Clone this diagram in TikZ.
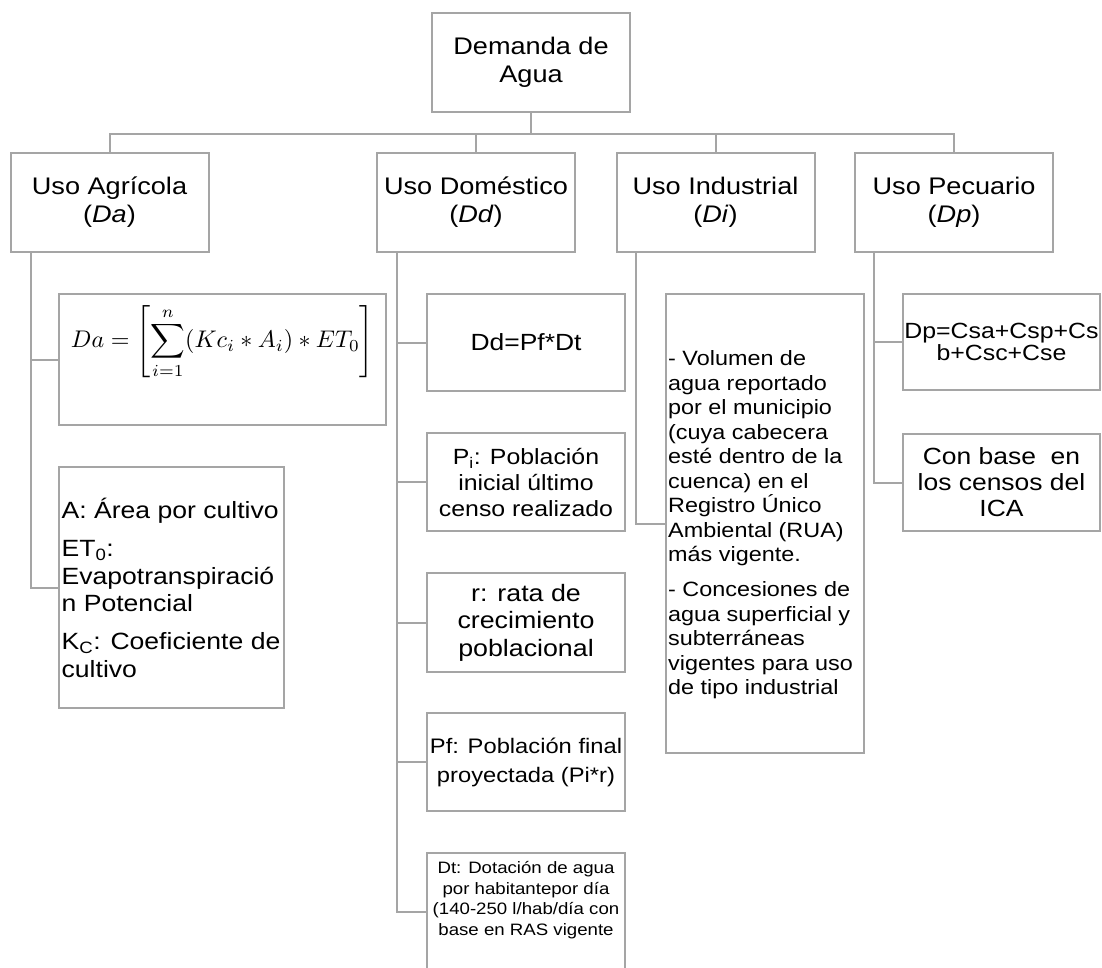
\documentclass[tikz,border=0pt]{standalone}
\usepackage{fontspec}
\setmainfont{Liberation Sans}[FakeStretch=1.13]
\usepackage{graphicx}
\definecolor{linegray}{RGB}{165,165,165}
\newcommand{\fsz}[2]{\fontsize{#1}{#2}\selectfont}
\tikzset{
  box/.style={draw=linegray, line width=2pt, inner sep=0pt, align=center, text=black},
  conn/.style={draw=linegray, line width=2pt},
  plain/.style={inner sep=0pt, text=black},
}
\begin{document}
\begin{tikzpicture}[x=1pt,y=-1pt]
\clip (0,0) rectangle (1102,967);
\useasboundingbox (0,0) rectangle (1102,967);

% level 1
\node[box, minimum width=198pt, minimum height=99pt, font=\fsz{24}{28}] (top) at (531,62.5) {Demanda de\\Agua};

% level 2
\node[box, minimum width=198pt, minimum height=99pt, font=\fsz{24}{28}] (agr) at (109.5,202.5) {Uso Agrícola\\(\textit{Da})};
\node[box, minimum width=198pt, minimum height=99pt, font=\fsz{24}{28}] (dom) at (476,202.5) {Uso Doméstico\\(\textit{Dd})};
\node[box, minimum width=198pt, minimum height=99pt, font=\fsz{24}{28}] (ind) at (715.5,202.5) {Uso Industrial\\(\textit{Di})};
\node[box, minimum width=198pt, minimum height=99pt, font=\fsz{24}{28}] (pec) at (954,202.5) {Uso Pecuario\\(\textit{Dp})};

% agricultural
\node[box, minimum width=327pt, minimum height=131pt] (form) at (222.5,359.5) {};
\node[plain] (formtext) at (222.5,342) {\resizebox{303pt}{!}{$\displaystyle Da=\left[\sum_{i=1}^{n}(Kc_i*A_i)*ET_0\right]$}};
\node[box, minimum width=225pt, minimum height=241pt] (abox) at (171.5,587.5) {};
\node[plain, anchor=west, align=left, font=\fsz{23.5}{27.7}] (atext) at (61.5,588)
  {A: Área por cultivo\\[10pt]ET\textsubscript{0}:\\Evapotranspiració\\n Potencial\\[10pt]K\textsubscript{C}: Coeficiente de\\cultivo};

% domestic
\node[box, minimum width=198pt, minimum height=97pt, font=\fsz{23.4}{27.5}] (dd) at (526,342.5) {Dd=Pf*Dt};
\node[box, minimum width=198pt, minimum height=98pt, font=\fsz{22}{26}] (pi) at (526,482) {P\textsubscript{i}: Población\\inicial último\\censo realizado};
\node[box, minimum width=198pt, minimum height=99pt, font=\fsz{23.7}{27.5}] (rr) at (526,622.5) {r: rata de\\crecimiento\\poblacional};
\node[box, minimum width=198pt, minimum height=98pt, font=\fsz{21}{29}] (pf) at (526,762) {Pf: Población final\\proyectada (Pi*r)};
\node[box, minimum width=198pt, minimum height=118pt] (dt) at (526,912) {};
\node[plain, anchor=north, align=center, font=\fsz{16.5}{20.8}] (dttext) at (526,861)
  {Dt: Dotación de agua\\por habitantepor día\\(140-250 l/hab/día con\\base en RAS vigente};

% industrial
\node[box, minimum width=198pt, minimum height=459pt] (indbox) at (765,523.5) {};
\node[plain, anchor=west, align=left, font=\fsz{20.7}{24.5}] (indtext) at (668,525)
  {- Volumen de\\agua reportado\\por el municipio\\(cuya cabecera\\esté dentro de la\\cuenca) en el\\Registro Único\\Ambiental (RUA)\\más vigente.\\[10.5pt]- Concesiones de\\agua superficial y\\subterráneas\\vigentes para uso\\de tipo industrial};

% livestock
\node[box, minimum width=197pt, minimum height=96pt, font=\fsz{22}{22.5}] (dp) at (1001.5,342) {Dp=Csa+Csp+Cs\\b+Csc+Cse};
\node[box, minimum width=197pt, minimum height=97pt, font=\fsz{23.4}{26}] (ica) at (1001.5,482.5) {Con base~ en\\los censos del\\ICA};

% connectors level 1 -> 2
\draw[conn] (top.south) -- ++(0,20.7) -| (agr.north);
\draw[conn] (top.south) -- ++(0,20.7) -| (dom.north);
\draw[conn] (top.south) -- ++(0,20.7) -| (ind.north);
\draw[conn] (top.south) -- ++(0,20.7) -| (pec.north);

% agricultural branch
\draw[conn] ([xshift=21pt]agr.south west) |- (form.west);
\draw[conn] ([xshift=21pt]agr.south west) |- (abox.west);

% domestic branch
\draw[conn] ([xshift=21pt]dom.south west) |- (dd.west);
\draw[conn] ([xshift=21pt]dom.south west) |- (pi.west);
\draw[conn] ([xshift=21pt]dom.south west) |- (rr.west);
\draw[conn] ([xshift=21pt]dom.south west) |- (pf.west);
\draw[conn] ([xshift=21pt]dom.south west) |- (dt.west);

% industrial branch
\draw[conn] ([xshift=20pt]ind.south west) |- (indbox.west);

% livestock branch
\draw[conn] ([xshift=20pt]pec.south west) |- (dp.west);
\draw[conn] ([xshift=20pt]pec.south west) |- (ica.west);
\end{tikzpicture}
\end{document}
